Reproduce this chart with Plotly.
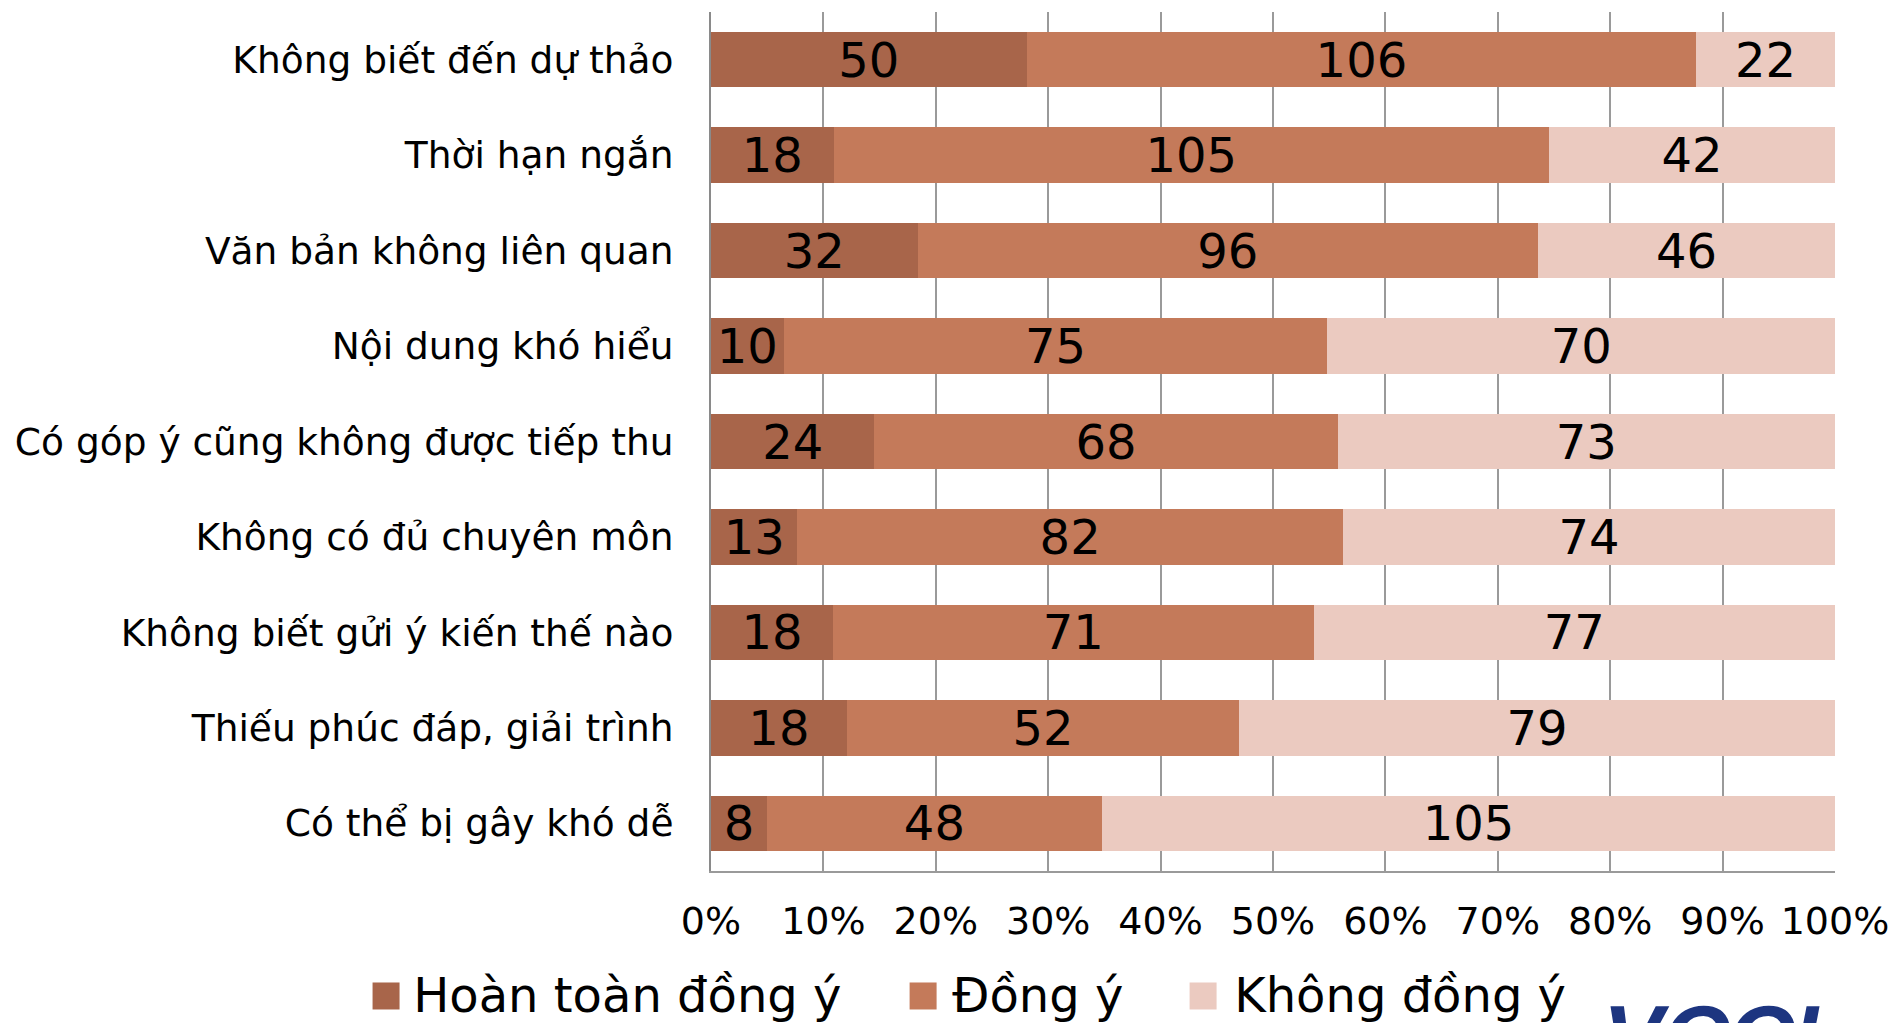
import plotly.graph_objects as go

categories = [
    "Không biết đến dự thảo",
    "Thời hạn ngắn",
    "Văn bản không liên quan",
    "Nội dung khó hiểu",
    "Có góp ý cũng không được tiếp thu",
    "Không có đủ chuyên môn",
    "Không biết gửi ý kiến thế nào",
    "Thiếu phúc đáp, giải trình",
    "Có thể bị gây khó dễ",
]
hoan_toan_dong_y = [50, 18, 32, 10, 24, 13, 18, 18, 8]
dong_y = [106, 105, 96, 75, 68, 82, 71, 52, 48]
khong_dong_y = [22, 42, 46, 70, 73, 74, 77, 79, 105]

series = [
    ("Hoàn toàn đồng ý", hoan_toan_dong_y, "#a8654a"),
    ("Đồng ý", dong_y, "#c47a5a"),
    ("Không đồng ý", khong_dong_y, "#ebcac0"),
]

FONT = "DejaVu Sans"
PAD = "\u00a0" * 4

fig = go.Figure()
for name, vals, col in series:
    fig.add_trace(go.Bar(
        y=categories, x=vals, name=name, orientation="h",
        marker=dict(color=col, line=dict(width=0)),
        text=vals, textposition="inside", insidetextanchor="middle",
        textangle=0, constraintext="none",
        textfont=dict(family=FONT, size=48, color="black"),
        showlegend=False,
    ))

# legend text only; the swatches are drawn as shapes below
for i, (name, vals, col) in enumerate(series):
    fig.add_trace(go.Scatter(
        x=[None], y=[None], mode="markers",
        name=name + (PAD + "\u200a" if i < 2 else ""),
        marker=dict(symbol="square", size=8, color="rgba(0,0,0,0)"),
    ))

swatch_x = [-0.2891, 0.1887, 0.4378]
for sx, (name, vals, col) in zip(swatch_x, series):
    fig.add_shape(
        type="rect", xref="paper", yref="paper",
        xsizemode="pixel", ysizemode="pixel",
        xanchor=sx, yanchor=-0.1455, x0=-13.5, x1=13.5, y0=-13.5, y1=13.5,
        fillcolor=col, line=dict(width=0), layer="above",
    )

# page body has an 8px margin, so the figure is a bit smaller and shifted
fig.update_layout(
    barmode="stack", barnorm="percent", bargap=0.42,
    width=1889, height=1015,
    margin=dict(l=703, r=62, t=4, b=152, autoexpand=False),
    paper_bgcolor="white", plot_bgcolor="white",
    font=dict(family=FONT, color="black"),
    uniformtext=dict(minsize=46, mode="show"),
    legend=dict(
        orientation="h", xref="paper", yref="paper",
        x=-0.3005, y=-0.1425, xanchor="left", yanchor="middle",
        font=dict(family=FONT, size=48), traceorder="normal",
        bgcolor="rgba(0,0,0,0)",
    ),
)
fig.update_xaxes(
    range=[0, 100], tickvals=list(range(0, 101, 10)),
    ticktext=[f"{v}%" for v in range(0, 101, 10)],
    tickfont=dict(family=FONT, size=38), ticklabelstandoff=16,
    showgrid=True, gridcolor="#9a9a9a", gridwidth=1.5,
    showline=True, linecolor="#9a9a9a", linewidth=1.5,
    zeroline=False, automargin=False,
)
fig.update_yaxes(
    autorange="reversed", tickfont=dict(family=FONT, size=37.5),
    ticklabelstandoff=28, automargin=False,
    showline=True, linecolor="#8a8a8a", linewidth=2,
    showgrid=False,
)

fig.add_annotation(
    text="<b><i>VCCI</i></b>", xref="paper", yref="paper",
    x=0.792, y=-0.134, xanchor="left", yanchor="top", showarrow=False,
    font=dict(family="Liberation Sans", size=90, color="#1d3580"),
)

fig.write_html("out.html")
